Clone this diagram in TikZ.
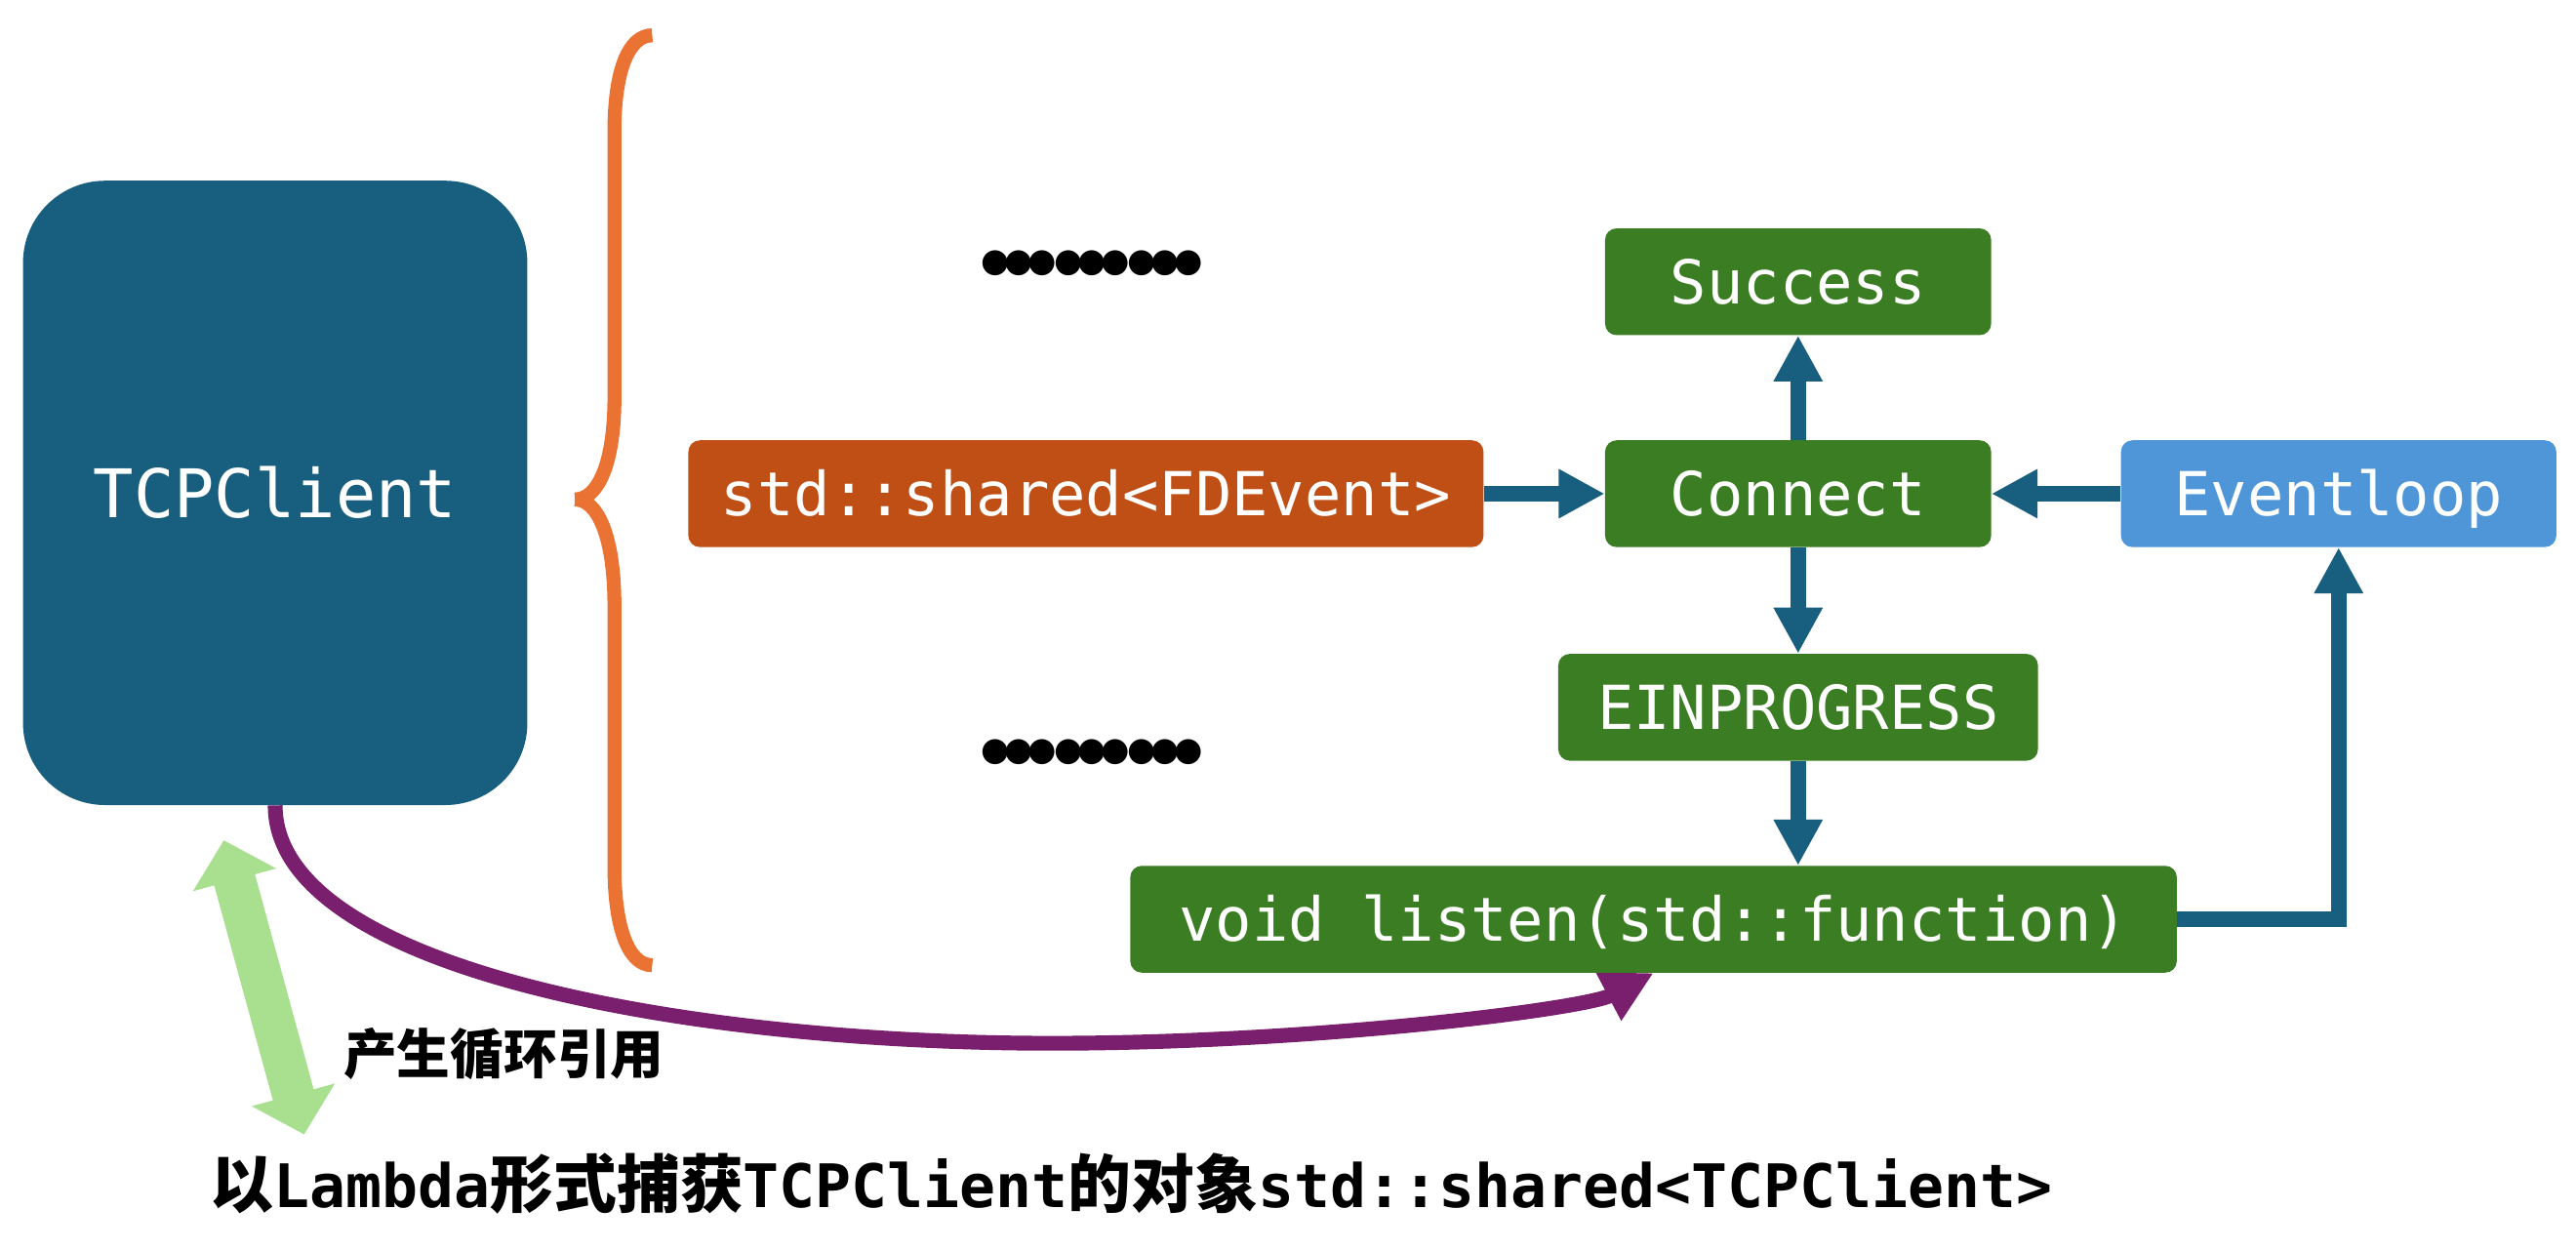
\documentclass[tikz,border=0pt]{standalone}
\usepackage{fontspec}
\setmonofont{DejaVu Sans Mono}
\newfontfamily\cjk{Noto Sans CJK SC}
\newfontfamily\dotfont{DejaVu Sans}
\usetikzlibrary{arrows.meta}
\definecolor{teal1}{HTML}{175E7F}
\definecolor{orng}{HTML}{EA7334}
\definecolor{rust}{HTML}{C04F16}
\definecolor{grn}{HTML}{3B7D23}
\definecolor{lblue}{HTML}{4F96D9}
\definecolor{purp}{HTML}{7A1F6E}
\definecolor{lgrn}{HTML}{A8E08F}
\pgfdeclarelayer{bg}
\pgfsetlayers{bg,main}
\newcommand\bdot{\makebox[14.25pt]{●}}
\newcommand\bgroupdots{\bdot\bdot\bdot}
\newcommand\dotline{\bgroupdots\hspace{1.75pt}\bgroupdots\hspace{1.75pt}\bgroupdots}
\begin{document}
\begin{tikzpicture}[x=1pt,y=-1pt,
  box/.style={rectangle, rounded corners=7pt, fill=#1, text=white, inner sep=0pt,
    font=\ttfamily\fontsize{36.9}{40}\selectfont, text height=26.9pt, text depth=0pt,
    minimum height=65pt},
  tarrow/.style={draw=teal1, line width=9.5pt, -{Triangle[length=28pt,width=28pt]}},
  bracepart/.style={draw=orng, line width=8.5pt, line cap=butt},
  dotrow/.style={inner sep=0pt, font=\dotfont\fontsize{20}{20}\selectfont}
]
\useasboundingbox (0,0) rectangle (1568,760.8);

\node[rectangle, rounded corners=50pt, fill=teal1, minimum width=307pt, minimum height=380pt,
  text=white, inner sep=0pt, font=\ttfamily\fontsize{40.8}{44}\selectfont,
  text height=29.7pt, text depth=0pt] (tcp) at (167.5,300) {TCPClient};

\node[box=grn, minimum width=235pt] (succ) at (1094.5,171.5) {Success};
\node[box=grn, minimum width=235pt] (conn) at (1094.5,300.5) {Connect};
\node[box=rust, minimum width=484pt] (fde) at (661,300.5) {std::shared<FDEvent>};
\node[box=lblue, minimum width=265pt] (evl) at (1423.5,300.5) {Eventloop};
\node[box=grn, minimum width=292pt] (einp) at (1094.5,430.5) {EINPROGRESS};
\node[box=grn, minimum width=637pt] (lis) at (1006.5,559.5) {void listen(std::function)};

\node[dotrow] (dots1) at (664.5,160) {\dotline};
\node[dotrow] (dots2) at (664.5,458) {\dotline};

% brace
\draw[bracepart] (397,21.5) .. controls (383,21.5) and (374,42) .. (374,80) -- (374,242)
  .. controls (374,282) and (364,304) .. (350,304);
\draw[bracepart] (350,304) .. controls (364,304) and (374,327) .. (374,369) -- (374,527)
  .. controls (374,566) and (383,587.5) .. (397,587.5);

% arrows
\draw[tarrow] (fde) -- (conn);
\draw[tarrow] (conn) -- (succ);
\draw[tarrow] (conn) -- (einp);
\draw[tarrow] (einp.south) -- (einp.south |- lis.north);
\draw[tarrow] (evl) -- (conn);
\draw[tarrow] (lis.east) -| (evl.south);

\begin{pgfonlayer}{bg}
\draw[draw=purp, line width=9pt, -{Triangle[length=31pt,width=31pt]}]
  (tcp.south) .. controls +(0,100) and (420,635) .. (640,635)
  .. controls (800,635) and (965,614) .. (lis.south);
\end{pgfonlayer}

\coordinate (ga) at (136.2,511.4);
\coordinate (gb) at (185.1,690.5);
\draw[draw=lgrn, line width=25.7pt, {Triangle[length=25pt,width=51pt]}-{Triangle[length=25pt,width=51pt]}] (ga) -- (gb);

\node[anchor=base west, inner sep=0pt, font=\cjk\bfseries\fontsize{32.5}{34}\selectfont] (cyc) at (209,653.5) {产生循环引用};

\node[anchor=base west, inner sep=0pt, font=\ttfamily\bfseries\fontsize{36.5}{40}\selectfont] (cap) at (128,735)
  {{\cjk\bfseries\fontsize{38.5}{40}\selectfont 以}Lambda{\cjk\bfseries\fontsize{38.5}{40}\selectfont 形式捕获}TCPClient{\cjk\bfseries\fontsize{38.5}{40}\selectfont 的对象}std::shared<TCPClient>};
\end{tikzpicture}
\end{document}
